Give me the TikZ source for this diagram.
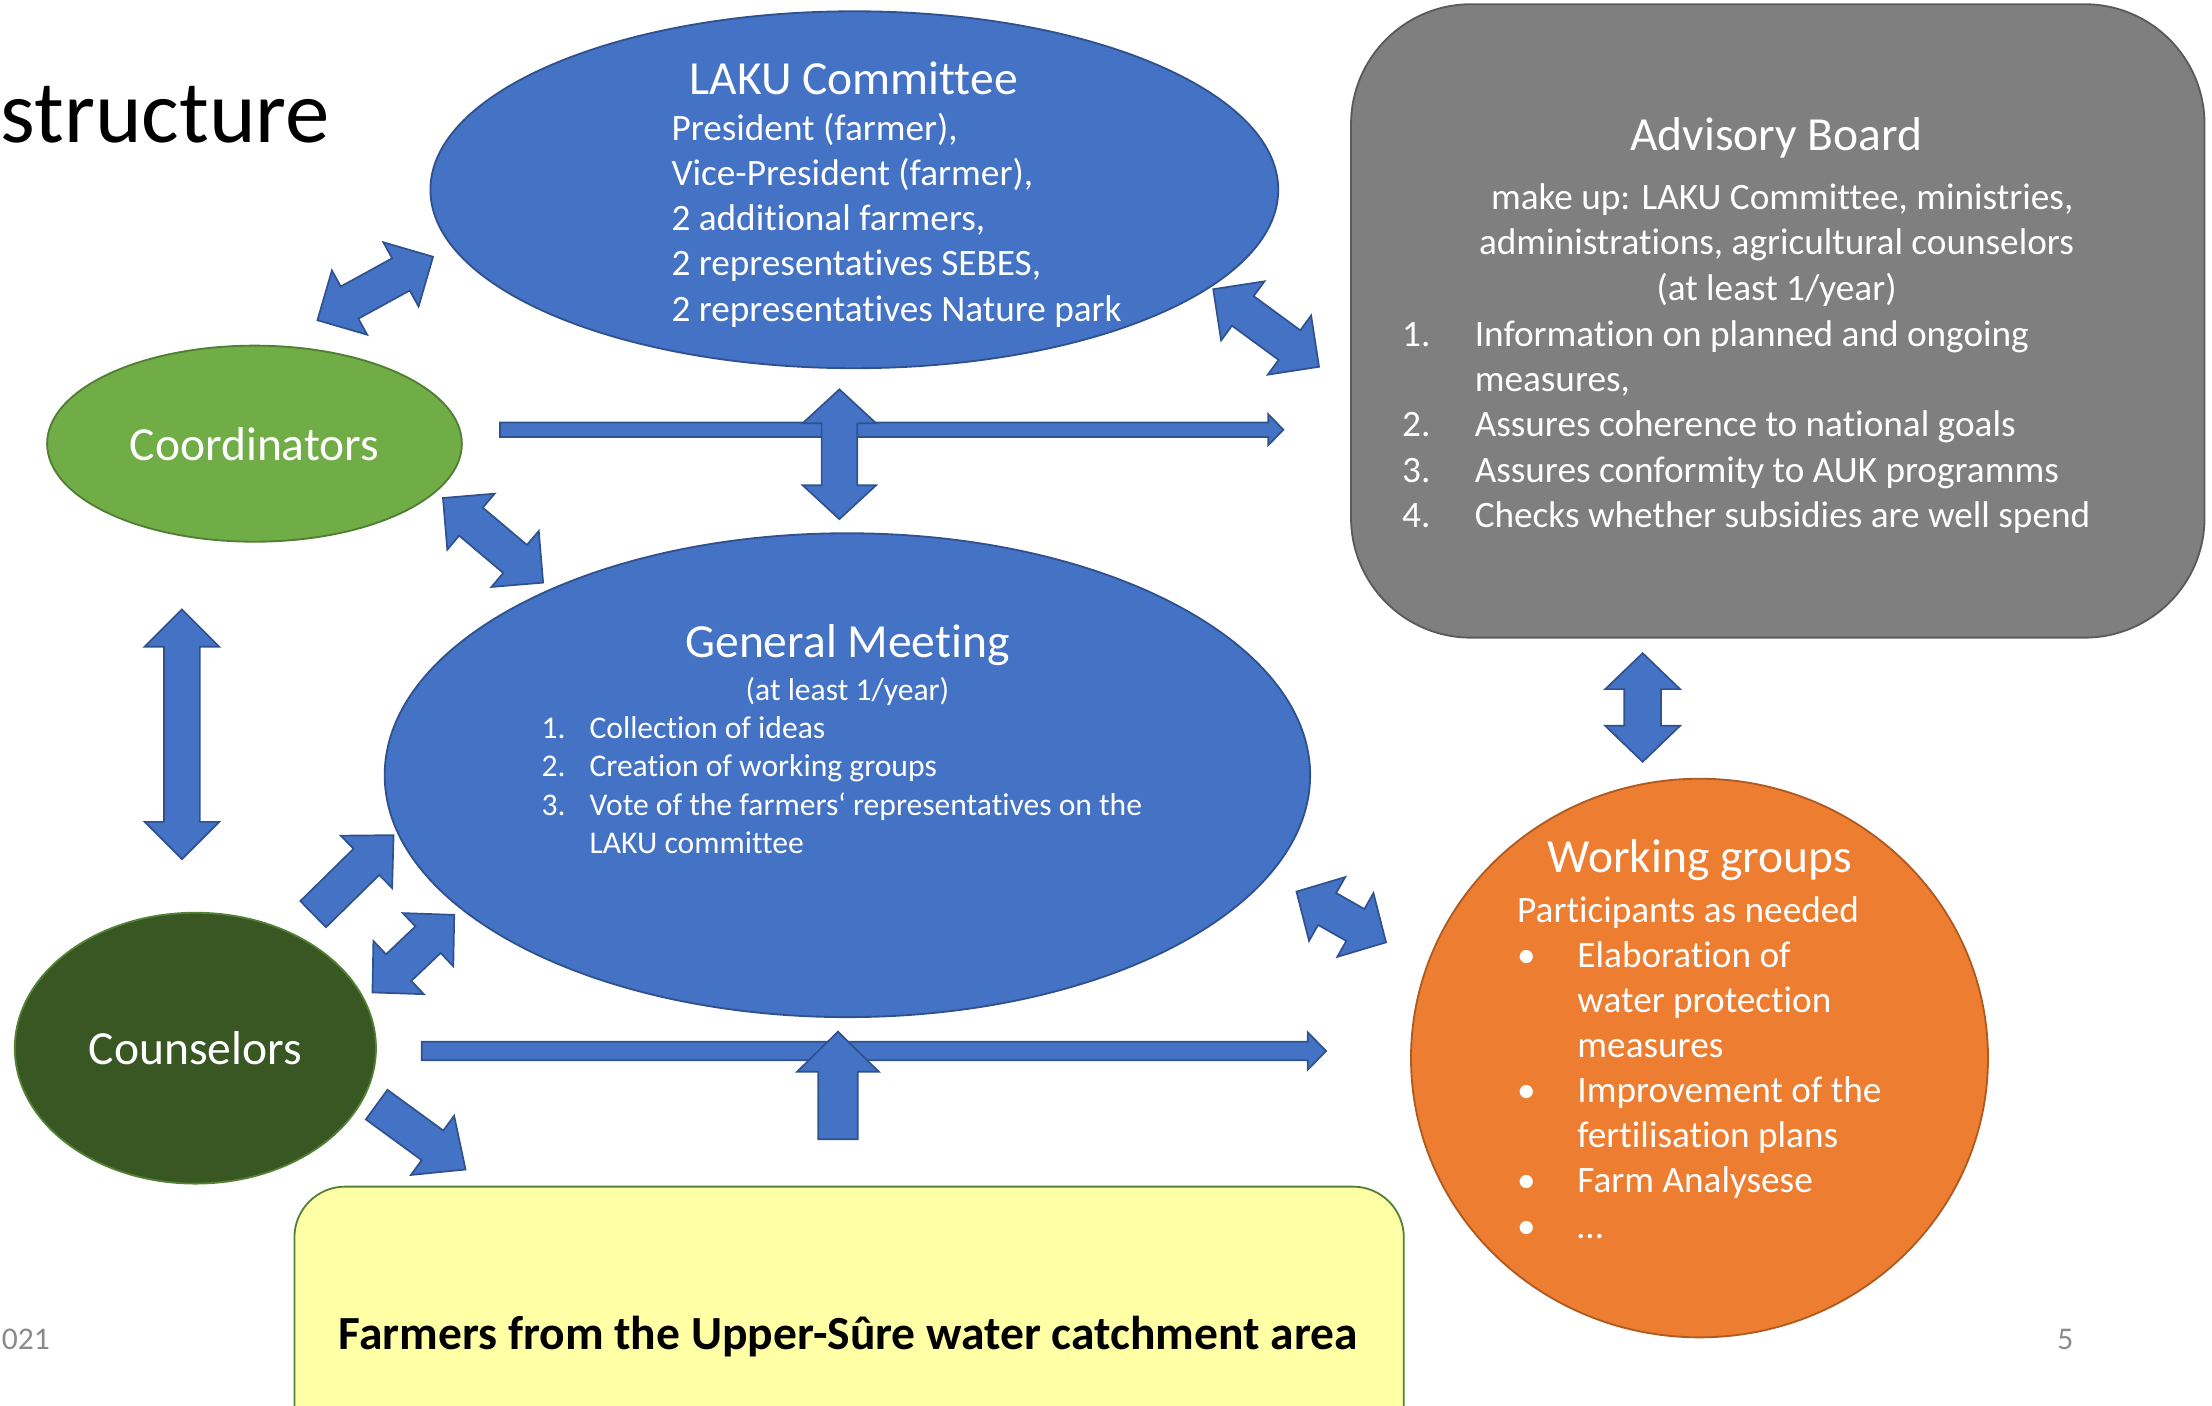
\documentclass[tikz,border=0pt]{standalone}
\usepackage{fontspec}
\setmainfont{Carlito}[Ligatures=CommonOff]
\usetikzlibrary{shapes.geometric,calc}

\definecolor{laublue}{HTML}{4472C4}
\definecolor{lauedge}{HTML}{2F528F}
\definecolor{coordgreen}{HTML}{70AD47}
\definecolor{coordedge}{HTML}{507E32}
\definecolor{counsgreen}{HTML}{385723}
\definecolor{counsedge}{HTML}{548235}
\definecolor{groupsorange}{HTML}{ED7D31}
\definecolor{groupsedge}{HTML}{AE5A21}
\definecolor{boardgray}{HTML}{7F7F7F}
\definecolor{boardedge}{HTML}{5A5A5A}
\definecolor{farmyellow}{HTML}{FFFFA6}
\definecolor{footgray}{HTML}{8B8B8B}

\newcommand\ttlsize{\fontsize{33.7}{41}\selectfont}
\newcommand\txtsize{\fontsize{26.4}{32}\selectfont}
\newcommand\smlsize{\fontsize{22.4}{27.3}\selectfont}
\newcommand\numcol[2]{\makebox[#1][l]{#2}}

\tikzstyle{oval}=[ellipse,
    line width=1.3pt,
    inner sep=0pt,
    text=white,
    font=\ttlsize]
\tikzstyle{block}=[rectangle,
    line width=1.3pt,
    inner sep=0pt]
\tikzstyle{txt}=[inner sep=0pt, text=white, align=left]
\tikzstyle{blockarrow}=[fill=laublue, draw=lauedge, line width=1.2pt, line join=miter]
\tikzset{
    dblarrow/.style n args={3}{blockarrow, to path={
        -- ($(\tikztostart)!#3!(\tikztotarget)!#2!90:(\tikztotarget)$)
        -- ($(\tikztostart)!#3!(\tikztotarget)!#1!90:(\tikztotarget)$)
        -- ($(\tikztotarget)!#3!(\tikztostart)!#1!-90:(\tikztostart)$)
        -- ($(\tikztotarget)!#3!(\tikztostart)!#2!-90:(\tikztostart)$)
        -- (\tikztotarget)
        -- ($(\tikztotarget)!#3!(\tikztostart)!#2!90:(\tikztostart)$)
        -- ($(\tikztotarget)!#3!(\tikztostart)!#1!90:(\tikztostart)$)
        -- ($(\tikztostart)!#3!(\tikztotarget)!#1!-90:(\tikztotarget)$)
        -- ($(\tikztostart)!#3!(\tikztotarget)!#2!-90:(\tikztotarget)$)
        -- cycle}},
    sglarrow/.style n args={3}{blockarrow, to path={
        -- ($(\tikztostart)!#1!90:(\tikztotarget)$)
        -- ($(\tikztotarget)!#3!(\tikztostart)!#1!-90:(\tikztostart)$)
        -- ($(\tikztotarget)!#3!(\tikztostart)!#2!-90:(\tikztostart)$)
        -- (\tikztotarget)
        -- ($(\tikztotarget)!#3!(\tikztostart)!#2!90:(\tikztostart)$)
        -- ($(\tikztotarget)!#3!(\tikztostart)!#1!90:(\tikztostart)$)
        -- ($(\tikztostart)!#1!-90:(\tikztotarget)$)
        -- cycle}}
}

\begin{document}
\begin{tikzpicture}[x=1pt, y=-1pt]
    \useasboundingbox (0,0) rectangle (1568,996);

    \node[txt, text=black, font=\fontsize{63}{76}\selectfont, anchor=base east] (title) at (234,101) {structure};

    \node[oval, fill=laublue, draw=lauedge, minimum width=601pt, minimum height=253pt] (laku) at (605.6,134.5) {};
    \node[block, rounded corners=85pt, fill=boardgray, draw=boardedge, minimum width=605pt, minimum height=449pt] (board) at (1260.2,227.5) {};
    \node[oval, fill=coordgreen, draw=coordedge, minimum width=294pt, minimum height=139pt] (coord) at (180.4,314.5) {Coordinators};
    \node[oval, fill=laublue, draw=lauedge, minimum width=656pt, minimum height=343pt] (meeting) at (600.7,549.5) {};
    \node[oval, fill=counsgreen, draw=counsedge, minimum width=256pt, minimum height=192pt] (couns) at (138.5,743) {Counselors};
    \node[oval, fill=groupsorange, draw=groupsedge, minimum width=409pt, minimum height=396pt] (groups) at (1204.7,750) {};
    \node[block, rounded corners=36pt, fill=farmyellow, draw=counsedge, minimum width=786.4pt, minimum height=200pt, anchor=north] (farmers) at (601.9,840.5) {};

    \node[txt, font=\ttlsize, anchor=base] (lakutitle) at (605.1,66.8) {LAKU Committee};
    \node[txt, font=\txtsize, anchor=north west] (lakulist) at (475.8,77) {\strut President (farmer),\\Vice-President (farmer),\\2 additional farmers,\\2 representatives SEBES,\\2 representatives Nature park};

    \node[txt, font=\ttlsize, anchor=base] (boardtitle) at (1259.3,106.8) {Advisory Board};
    \node[txt, font=\txtsize, align=center, anchor=north] (boardmake) at (1259.3,126.1) {\strut\hspace*{0.3em}make up: LAKU Committee, ministries,\\administrations, agricultural counselors\\(at least 1/year)};
    \node[txt, font=\txtsize, anchor=north west] (boardlist) at (993.7,223.1) {\strut\numcol{51.5pt}{1.}Information on planned and ongoing\\\numcol{51.5pt}{}measures,\\\numcol{51.5pt}{2.}Assures coherence to national goals\\\numcol{51.5pt}{3.}Assures conformity to AUK programms\\\numcol{51.5pt}{4.}Checks whether subsidies are well spend};

    \node[txt, font=\ttlsize, anchor=base] (meetingtitle) at (600.7,465.8) {General Meeting};
    \node[txt, font=\smlsize, anchor=base] (meetingfreq) at (600.7,496.2) {(at least 1/year)};
    \node[txt, font=\smlsize, anchor=north west] (meetinglist) at (383.7,504.1) {\strut\numcol{34pt}{1.}Collection of ideas\\\numcol{34pt}{2.}Creation of working groups\\\numcol{34pt}{3.}Vote of the farmers‘ representatives on the\\\numcol{34pt}{}LAKU committee};

    \node[txt, font=\ttlsize, anchor=base] (groupstitle) at (1205,618.8) {Working groups};
    \node[txt, font=\txtsize, anchor=north west] (groupslist) at (1075.3,631) {\strut Participants as needed\\\numcol{42.7pt}{\textbullet}Elaboration of\\\numcol{42.7pt}{}water protection\\\numcol{42.7pt}{}measures\\\numcol{42.7pt}{\textbullet}Improvement of the\\\numcol{42.7pt}{}fertilisation plans\\\numcol{42.7pt}{\textbullet}Farm Analysese\\\numcol{42.7pt}{\textbullet}…};

    \node[txt, text=black, font=\ttlsize\bfseries, anchor=base] (farmerstxt) at (601.4,956.8) {Farmers from the Upper-Sûre water catchment area};

    \node[txt, text=footgray, font=\smlsize, anchor=base east] (date) at (35.5,956.3) {021};
    \node[txt, text=footgray, font=\smlsize, anchor=base] (page) at (1464,956.3) {5};

    \coordinate (coordlaku1) at (225,227);
    \coordinate (coordlaku2) at (307,182);
    \coordinate (coordmeet1) at (314,353);
    \coordinate (coordmeet2) at (385,413);
    \coordinate (coordcouns1) at (129,432);
    \coordinate (coordcouns2) at (129,609);
    \coordinate (counsmeet1) at (222,648);
    \coordinate (counsmeet2) at (279,592);
    \coordinate (counsmeet3) at (264,703.5);
    \coordinate (counsmeet4) at (322,648.5);
    \coordinate (counsfarm1) at (267,783);
    \coordinate (counsfarm2) at (330,829);
    \coordinate (topline1) at (354.4,304.6);
    \coordinate (topline2) at (909.7,304.6);
    \coordinate (lakumeet1) at (595,276);
    \coordinate (lakumeet2) at (595,368);
    \coordinate (lakuboard1) at (860,205);
    \coordinate (lakuboard2) at (935,260);
    \coordinate (boardgroups1) at (1164.4,463);
    \coordinate (boardgroups2) at (1164.4,540);
    \coordinate (meetgroups1) at (919,632);
    \coordinate (meetgroups2) at (982.5,668);
    \coordinate (lowline1) at (299,745);
    \coordinate (lowline2) at (940,745);
    \coordinate (farmmeet1) at (594,807.6);
    \coordinate (farmmeet2) at (594,731.3);

    \draw [dblarrow={13pt}{26pt}{26pt}] (coordlaku1) to (coordlaku2);
    \draw [dblarrow={13pt}{26pt}{26pt}] (coordmeet1) to (coordmeet2);
    \draw [dblarrow={12.7pt}{26.4pt}{26.4pt}] (coordcouns1) to (coordcouns2);
    \draw [sglarrow={13pt}{26pt}{27pt}] (counsmeet1) to (counsmeet2);
    \draw [dblarrow={13pt}{26pt}{25.6pt}] (counsmeet3) to (counsmeet4);
    \draw [sglarrow={13pt}{26pt}{29pt}] (counsfarm1) to (counsfarm2);
    \draw [sglarrow={5.1pt}{11pt}{10.7pt}] (topline1) to (topline2);
    \draw [dblarrow={12.6pt}{26pt}{24pt}] (lakumeet1) to (lakumeet2);
    \draw [dblarrow={13pt}{26pt}{26pt}] (lakuboard1) to (lakuboard2);
    \draw [dblarrow={13pt}{26.5pt}{25.5pt}] (boardgroups1) to (boardgroups2);
    \draw [dblarrow={13pt}{26pt}{25pt}] (meetgroups1) to (meetgroups2);
    \draw [sglarrow={6.5pt}{13.3pt}{13pt}] (lowline1) to (lowline2);
    \draw [sglarrow={14pt}{29pt}{28.4pt}] (farmmeet1) to (farmmeet2);
\end{tikzpicture}
\end{document}
